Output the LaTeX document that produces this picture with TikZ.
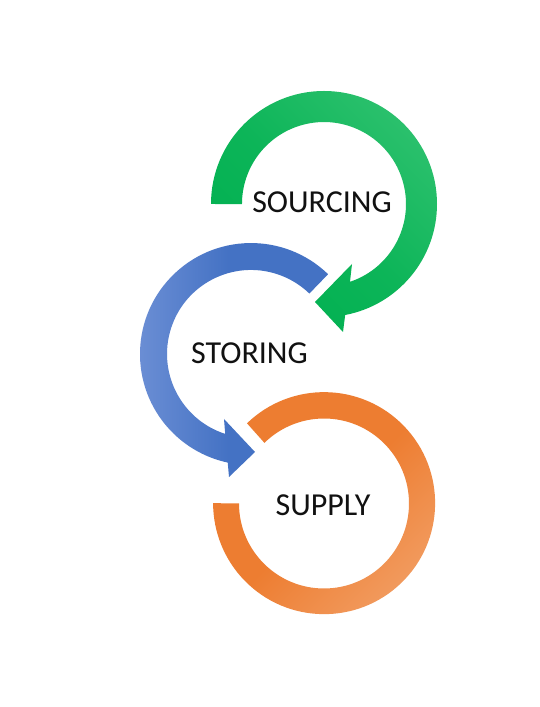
\documentclass[tikz,border=0pt]{standalone}
\usepackage{fontspec}
\setmainfont{Carlito}
\definecolor{gdark}{HTML}{00B050}
\definecolor{glight}{HTML}{2AC06C}
\definecolor{bdark}{HTML}{4472C4}
\definecolor{blight}{HTML}{6F91D6}
\definecolor{odark}{HTML}{ED7D31}
\definecolor{olight}{HTML}{F29D62}
\definecolor{txt}{HTML}{111111}
\tikzset{
  lbl/.style={font=\fontsize{32}{38}\selectfont, text=txt, inner sep=0pt, anchor=center}
}
\begin{document}
\begin{tikzpicture}[x=1pt,y=1pt]
\useasboundingbox[fill=white] (0,0) rectangle (540,707);
% green ring (SOURCING), center (324,503)
\shade[top color=glight, bottom color=gdark, middle color=gdark!70!glight, shading angle=-45]
  (211,503) arc[start angle=180, end angle=-79.2, radius=113]
  -- (343,375) -- (315,405) -- (352,443) -- (350.0,425.2)
  arc[start angle=-71.5, end angle=180, radius=82] -- cycle;
% blue ring (STORING), center (251,353)
\shade[left color=blight, right color=bdark, middle color=bdark]
  (328.1,432.8) arc[start angle=46, end angle=257.9, radius=111]
  -- (229,230) -- (255,255) -- (224,288) -- (225.2,273.1)
  arc[start angle=252.1, end angle=46, radius=84] -- cycle;
% orange ring (SUPPLY), center (324,203.5)
\shade[top color=odark, bottom color=olight, middle color=odark, shading angle=45]
  (247.0,283.7) arc[start angle=134, end angle=-180, radius=111]
  -- (239,203.5) arc[start angle=-180, end angle=134.5, radius=85] -- cycle;
\node[lbl] (sourcing) at (322,505) {SOURCING};
\node[lbl] (storing) at (249.5,354) {STORING};
\node[lbl] (supply) at (323,202) {SUPPLY};
\end{tikzpicture}
\end{document}
